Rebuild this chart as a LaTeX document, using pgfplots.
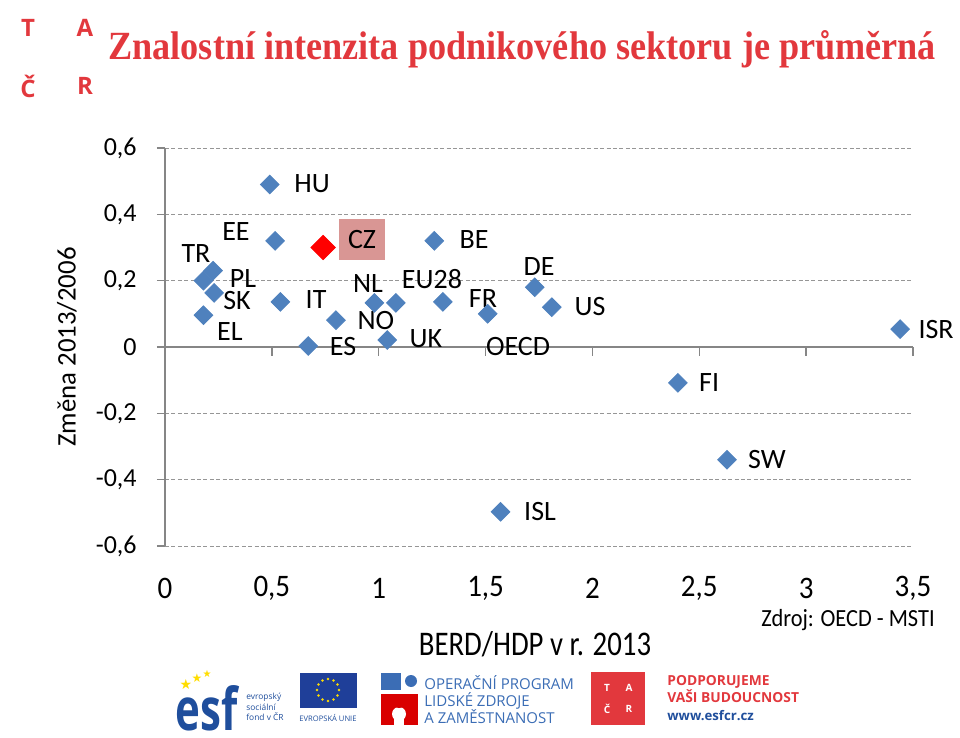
\documentclass[border=0pt]{standalone}
\usepackage{pgfplots}
\pgfplotsset{compat=1.18}
\usepackage{pgfplotstable}
\usepackage{fontspec}
\setmainfont{Carlito}
\newfontfamily\titlefont{Liberation Serif}
\newfontfamily\logofont{Open Sans}
\newfontfamily\symfont{DejaVu Sans}

\definecolor{pointblue}{HTML}{4F81BD}
\definecolor{czred}{HTML}{FF0000}
\definecolor{czbox}{HTML}{D99694}
\definecolor{titlered}{HTML}{E2383D}
\definecolor{gridgray}{HTML}{969696}
\definecolor{axisgray}{HTML}{868686}
\definecolor{opblue}{HTML}{3B6DB5}
\definecolor{esfblue}{HTML}{1F4E9C}
\definecolor{euflag}{HTML}{1F3F99}
\definecolor{euyellow}{HTML}{FFDD00}

% BERD/HDP 2013, change 2013/2006
\pgfplotstableread{
x y
0.49 0.49
0.515 0.32
1.26 0.32
0.18 0.20
0.225 0.23
0.23 0.163
0.18 0.096
0.54 0.136
0.98 0.133
1.08 0.133
0.80 0.081
0.67 0.003
1.04 0.021
1.30 0.136
1.51 0.10
1.73 0.18
1.81 0.12
3.44 0.054
2.40 -0.108
2.63 -0.34
1.57 -0.497
}\countries
\pgfplotstableread{
x y
0.74 0.30
}\czech

\begin{document}
\begin{tikzpicture}
\path[use as bounding box] (0,0) rectangle (480pt,-369pt);

\begin{axis}[
    at={(82.5pt,-273pt)}, anchor=south west,
    width=374pt, height=199pt, scale only axis,
    xmin=0, xmax=3.5, ymin=-0.6, ymax=0.6,
    xtick={0,0.5,...,3.5},
    ytick={-0.6,-0.4,...,0.6},
    axis x line*=bottom, axis y line*=left,
    x axis line style={draw=none},
    y axis line style={draw=axisgray, line width=0.7pt},
    xtick style={draw=none},
    ytick style={draw=axisgray, line width=0.7pt},
    tick align=outside, major tick length=4pt,
    xmajorgrids=false, ymajorgrids=true,
    grid style={draw=gridgray, dash pattern=on 2pt off 1.2pt, line width=0.5pt},
    /pgf/number format/use comma,
    /pgf/number format/assume math mode=true,
    xticklabel style={anchor=center, yshift=-17pt, yscale=1.08,
        font=\fontsize{14.5}{16}\selectfont},
    yticklabel style={anchor=east, inner sep=0pt, xshift=-10pt,
        font=\fontsize{13}{15}\selectfont},
    clip=false,
]
\draw[axisgray, line width=0.7pt] (axis cs:0,0) -- (axis cs:3.5,0);
\pgfplotsinvokeforeach{0.5,1,1.5,2,2.5,3,3.5}{
    \draw[axisgray, line width=0.7pt] (axis cs:#1,0) -- (axis cs:#1,-0.028);
}

\addplot[only marks, mark=square*, mark size=3.3pt,
    mark options={rotate=45, fill=pointblue, draw=pointblue}]
    table[x=x, y=y] {\countries};

\node[fill=czbox, minimum width=23pt, minimum height=20.5pt, inner sep=0pt,
    font=\fontsize{14}{16}\selectfont] at (axis cs:0.922,0.323) {CZ};
\addplot[only marks, mark=square*, mark size=4.3pt,
    mark options={rotate=45, fill=czred, draw=czred}]
    table[x=x, y=y] {\czech};

\begin{scope}[every node/.style={font=\fontsize{14}{16}\selectfont, inner sep=0pt}]
\node at (axis cs:0.688,0.494) {HU};
\node at (axis cs:0.332,0.347) {EE};
\node at (axis cs:1.446,0.323) {BE};
\node at (axis cs:0.145,0.283) {TR};
\node at (axis cs:0.365,0.205) {PL};
\node at (axis cs:0.337,0.139) {SK};
\node at (axis cs:0.304,0.048) {EL};
\node at (axis cs:0.707,0.142) {IT};
\node at (axis cs:0.950,0.190) {NL};
\node at (axis cs:1.249,0.205) {EU28};
\node at (axis cs:0.987,0.081) {NO};
\node at (axis cs:0.833,0.000) {ES};
\node at (axis cs:1.221,0.024) {UK};
\node at (axis cs:1.488,0.145) {FR};
\node at (axis cs:1.652,0.000) {OECD};
\node at (axis cs:1.750,0.244) {DE};
\node at (axis cs:1.989,0.121) {US};
\node at (axis cs:3.608,0.054) {ISR};
\node at (axis cs:2.546,-0.106) {FI};
\node at (axis cs:2.817,-0.338) {SW};
\node at (axis cs:1.755,-0.497) {ISL};
\end{scope}
\end{axis}

\begin{scope}[x=0.5pt, y=-0.5pt]
% y label, x label, source
\node[rotate=90, font=\fontsize{13.4}{15}\selectfont] at (67,347) {Změna 2013/2006};
\node[yscale=1.2, font=\fontsize{14.4}{16}\selectfont] at (535,644) {BERD/HDP v r. 2013};
\node[yscale=1.1, font=\fontsize{11.2}{13}\selectfont] at (848,620) {Zdroj: OECD - MSTI};

% title and TACR letters
\node[anchor=base west, inner sep=0pt, text=titlered] at (108,60)
    {\scalebox{0.905}[1]{\titlefont\bfseries\fontsize{20}{24}\selectfont Znalostní intenzita podnikového sektoru je průměrná}};
\begin{scope}[every node/.style={text=titlered, font=\logofont\bfseries\fontsize{12}{14}\selectfont}]
\node at (28,28) {T};
\node at (85,28) {A};
\node at (28,86) {Č};
\node at (85,86) {R};
\end{scope}

% bottom logos
\node[anchor=west, inner sep=0pt, yscale=1.4, text=esfblue,
    font=\logofont\bfseries\fontsize{21}{21}\selectfont] at (175,708) {esf};
\foreach \p/\s in {(186,684)/7,(197,678)/6,(207,674)/5}
    \node[text=euyellow, font=\symfont\fontsize{\s}{\s}\selectfont, inner sep=0pt] at \p {★};
\node[anchor=west, align=left, text=esfblue, inner sep=0pt,
    font=\logofont\fontsize{4.2}{5.2}\selectfont] at (246,707) {evropský\\sociální\\fond v ČR};
\fill[euflag] (300,673) rectangle (357,708);
\foreach \a in {0,30,...,330}
    \fill[euyellow] (328,690) ++(\a:11) circle (1.3);
\node[text=esfblue, inner sep=0pt, font=\logofont\fontsize{3.8}{4}\selectfont] at (328,718) {EVROPSKÁ UNIE};

\fill[opblue] (381,673) rectangle (401,690);
\fill[opblue] (411,681) circle (6);
\fill[red!85!black] (381,694) rectangle (418,725);
\fill[white] (399,714) circle (7);
\fill[white] (394,714) rectangle (404,725);
\fill[red!85!black] (399,702) circle (6);
\node[anchor=west, align=left, text=opblue, inner sep=0pt,
    font=\logofont\fontsize{7.5}{8.5}\selectfont] at (424,700)
    {OPERAČNÍ PROGRAM\\LIDSKÉ ZDROJE\\A ZAMĚSTNANOST};

\fill[titlered] (591,672) rectangle (645,725);
\begin{scope}[every node/.style={text=white, inner sep=0pt, font=\logofont\bfseries\fontsize{5}{5}\selectfont}]
\node at (607,688) {T};
\node at (629,688) {A};
\node at (607,709) {Č};
\node at (629,709) {R};
\end{scope}
\node[anchor=west, align=left, text=titlered, inner sep=0pt,
    font=\logofont\bfseries\fontsize{6.9}{8.5}\selectfont] at (667,689)
    {PODPORUJEME\\VAŠI BUDOUCNOST};
\node[anchor=west, text=esfblue, inner sep=0pt,
    font=\logofont\bfseries\fontsize{6.6}{8}\selectfont] at (667,716) {www.esfcr.cz};
\end{scope}
\end{tikzpicture}
\end{document}
